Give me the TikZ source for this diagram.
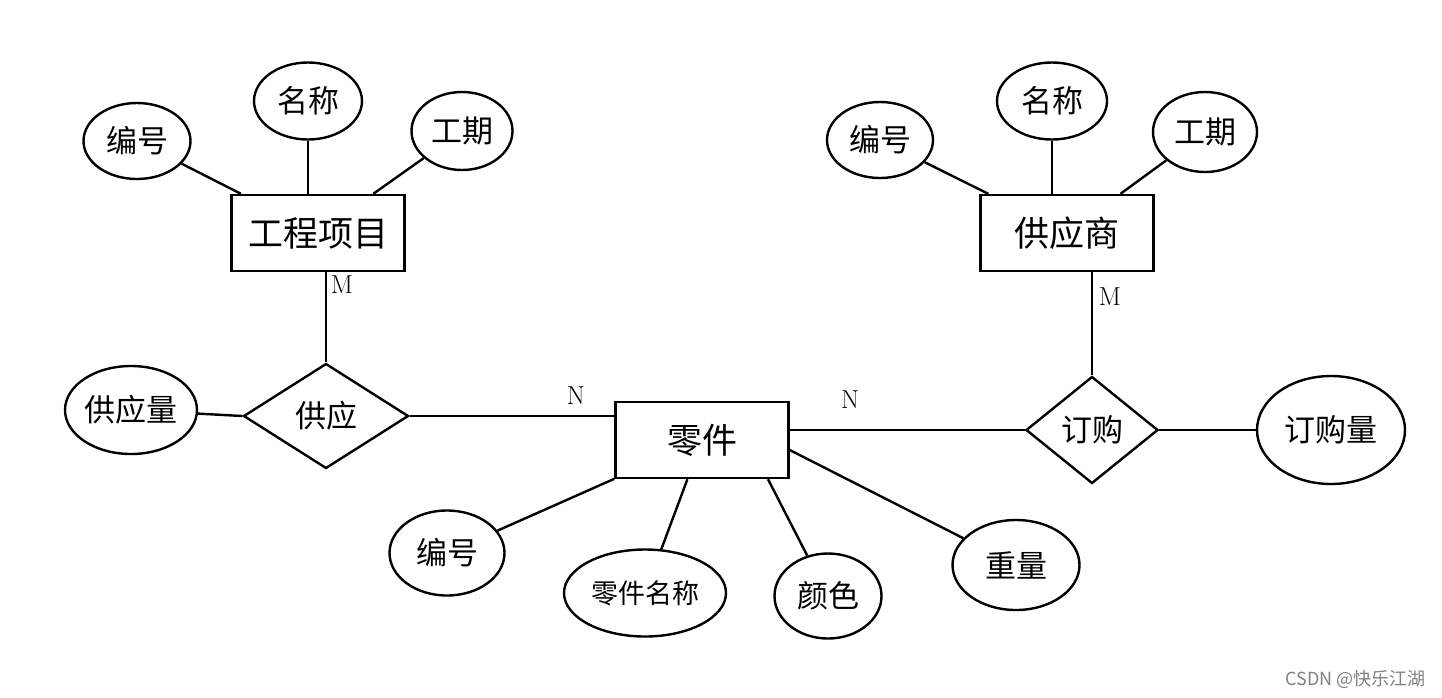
\documentclass[tikz,border=0pt]{standalone}
\usepackage{fontspec}
\newfontfamily\cjk{Noto Sans CJK SC}
\usetikzlibrary{shapes.geometric,calc}
\begin{document}
\begin{tikzpicture}[x=1pt,y=-1pt,line width=2.4pt,
  ent/.style={draw,rectangle,minimum width=173pt,minimum height=76pt,inner sep=0pt,font=\cjk\fontsize{35}{40}\selectfont},
  attr/.style={draw,ellipse,inner sep=0pt,font=\cjk\fontsize{31}{36}\selectfont},
  rel/.style={draw,diamond,inner sep=0pt,font=\cjk\fontsize{31}{36}\selectfont},
  card/.style={font=\fontsize{26}{30}\selectfont}]
\useasboundingbox (0,0) rectangle (1442,697);
% entities
\node[ent] (gc) at (318,233) {工程项目};
\node[ent] (sg) at (1067,233) {供应商};
\node[ent] (lj) at (702,440) {零件};
% relations
\node[rel,minimum width=165pt,minimum height=105pt] (sy) at (326,416) {供应};
\node[rel,minimum width=132pt,minimum height=107pt] (dg) at (1092,430) {订购};
% attributes of 工程项目
\node[attr,minimum width=107pt,minimum height=76pt] (ga) at (137,141) {编号};
\node[attr,minimum width=108pt,minimum height=77pt] (gb) at (308,101) {名称};
\node[attr,minimum width=101pt,minimum height=78pt] (gd) at (462,131) {工期};
% attributes of 供应商
\node[attr,minimum width=106pt,minimum height=76pt] (sa) at (880,140) {编号};
\node[attr,minimum width=110pt,minimum height=77pt] (sb) at (1052,101) {名称};
\node[attr,minimum width=104pt,minimum height=80pt] (sd) at (1205,132) {工期};
% relation attributes
\node[attr,minimum width=132pt,minimum height=88pt] (sl) at (131,410) {供应量};
\node[attr,minimum width=148pt,minimum height=108pt] (dl) at (1331,430) {订购量};
% attributes of 零件
\node[attr,minimum width=115pt,minimum height=85pt] (la) at (447,553) {编号};
\node[attr,minimum width=162pt,minimum height=87pt,font=\cjk\fontsize{27}{32}\selectfont] (lb) at (645,593) {零件名称};
\node[attr,minimum width=107pt,minimum height=85pt] (lc) at (828,596) {颜色};
\node[attr,minimum width=127pt,minimum height=90pt] (ld) at (1016,565) {重量};
% connectors
\draw (ga) -- (gc);
\draw (gb.south) -- (gb.south |- gc.north);
\draw (gd) -- (gc);
\draw (sa) -- (sg);
\draw (sb.south) -- (sb.south |- sg.north);
\draw (sd) -- (sg);
\draw (sy.north |- gc.south) -- (sy.north);
\draw (dg.north |- sg.south) -- (dg.north);
\draw (sl) -- (sy.west);
\draw (sy.east) -- (sy.east -| lj.west);
\draw (dg.west -| lj.east) -- (dg.west);
\draw (dg.east) -- (dl.west);
\draw (lj) -- (la);
\draw (lj) -- (lb);
\draw ([xshift=66pt]lj.south) -- (lc);
\draw ($(lj.east)+(0,10)$) -- (ld);
% cardinalities
\node[card] (m1) at (342,285) {M};
\node[card] (m2) at (1110,297) {M};
\node[card] (n1) at (576,396) {N};
\node[card] (n2) at (850,400) {N};
% watermark
\node[font=\cjk\fontsize{18}{20}\selectfont,text=black!50,anchor=east] (wm) at (1430,679) {CSDN @快乐江湖};
\end{tikzpicture}
\end{document}
